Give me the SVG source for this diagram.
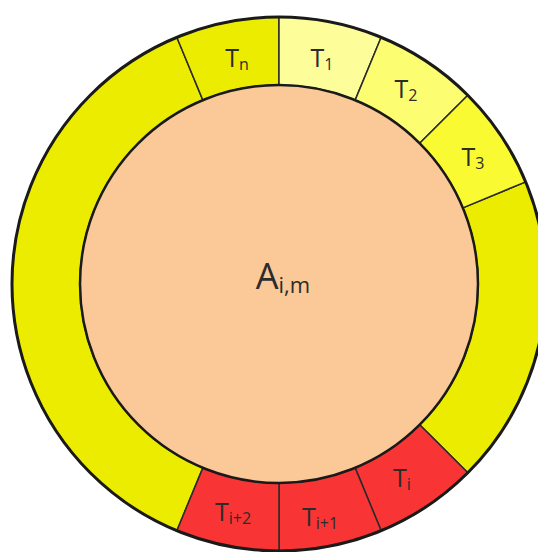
<svg xmlns="http://www.w3.org/2000/svg" width="538" height="552" viewBox="0 0 538 552">
<style>
.seg{stroke:#2a2a2a;stroke-width:1.5;stroke-linejoin:round}
.lbl{font-family:"Open Sans","Liberation Sans",sans-serif;font-size:25px;fill:#2c2c2c;text-anchor:middle}
.sub{font-size:16px}
.big{font-size:36px}
.bigsub{font-size:22px}
</style>
<rect width="538" height="552" fill="#ffffff"/>
<g id="ring">
<g id="seg-yellow-right"><path class="seg" fill="#ecec00" d="M525.68,181.82 A267,267 0 0 1 467.80,472.80 L419.71,424.71 A199,199 0 0 0 462.85,207.85 Z"/></g>
<g id="seg-yellow-left"><path class="seg" fill="#ecec00" d="M176.82,530.68 A267,267 0 0 1 176.82,37.32 L202.85,100.15 A199,199 0 0 0 202.85,467.85 Z"/></g>
<g id="seg-Tn"><path class="seg" fill="#ecec00" d="M176.82,37.32 A267,267 0 0 1 279,17 L279,85 A199,199 0 0 0 202.85,100.15 Z"/><text class="lbl" x="237" y="67">T<tspan class="sub" dy="3">n</tspan></text></g>
<g id="seg-T1"><path class="seg" fill="#fdfd9a" d="M279,17 A267,267 0 0 1 381.18,37.32 L355.15,100.15 A199,199 0 0 0 279,85 Z"/><text class="lbl" x="322" y="67">T<tspan class="sub" dy="3">1</tspan></text></g>
<g id="seg-T2"><path class="seg" fill="#fdfd72" d="M381.18,37.32 A267,267 0 0 1 467.80,95.20 L419.71,143.29 A199,199 0 0 0 355.15,100.15 Z"/><text class="lbl" x="406" y="98">T<tspan class="sub" dy="3">2</tspan></text></g>
<g id="seg-T3"><path class="seg" fill="#fafa32" d="M467.80,95.20 A267,267 0 0 1 525.68,181.82 L462.85,207.85 A199,199 0 0 0 419.71,143.29 Z"/><text class="lbl" x="473" y="166">T<tspan class="sub" dy="3">3</tspan></text></g>
<g id="seg-Ti"><path class="seg" fill="#f83434" d="M467.80,472.80 A267,267 0 0 1 381.18,530.68 L355.15,467.85 A199,199 0 0 0 419.71,424.71 Z"/><text class="lbl" x="402" y="487">T<tspan class="sub" dy="3">i</tspan></text></g>
<g id="seg-Ti1"><path class="seg" fill="#f83434" d="M381.18,530.68 A267,267 0 0 1 279,551 L279,483 A199,199 0 0 0 355.15,467.85 Z"/><text class="lbl" x="320" y="526">T<tspan class="sub" dy="3">i+1</tspan></text></g>
<g id="seg-Ti2"><path class="seg" fill="#f83434" d="M279,551 A267,267 0 0 1 176.82,530.68 L202.85,467.85 A199,199 0 0 0 279,483 Z"/><text class="lbl" x="233" y="521">T<tspan class="sub" dy="3">i+2</tspan></text></g>
<circle cx="279" cy="284" r="267" fill="none" stroke="#1a1a1a" stroke-width="3"/>
</g>
<g id="center">
<circle cx="279" cy="284" r="199" fill="#fbc898" stroke="#1a1a1a" stroke-width="2.5"/>
<text class="lbl big" x="283" y="289">A<tspan class="bigsub" dy="4">i,m</tspan></text>
</g>
</svg>
